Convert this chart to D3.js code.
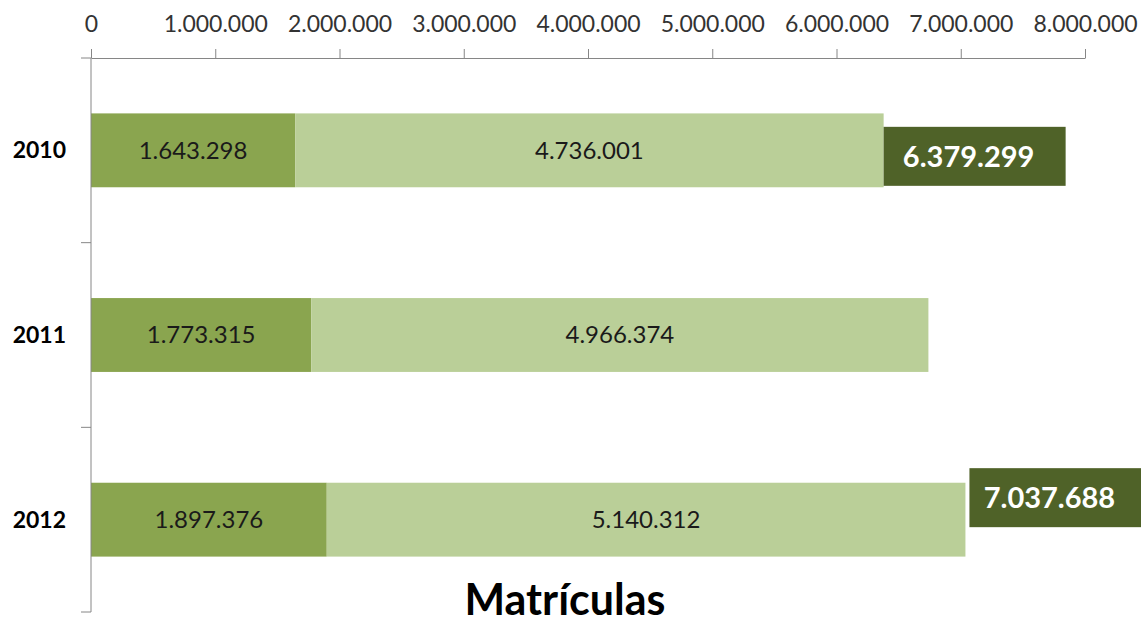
<!doctype html>
<html>
<head>
  <title>Matrículas</title>
  <meta charset="UTF-8">
  <script src="https://d3js.org/d3.v7.min.js"></script>
  <style>
    body { margin: 0; background: #ffffff; }
    text { font-family: Lato, "Open Sans", sans-serif; }
  </style>
</head>
<body>
  <div id="svg_area"></div>
</body>
</html>
<script>

// data
var years = ["2010", "2011", "2012"];
var firstPart = [1643298, 1773315, 1897376];
var secondPart = [4736001, 4966374, 5140312];
var totals = [6379299, null, 7037688];
var xTicks = [0, 1000000, 2000000, 3000000, 4000000, 5000000, 6000000, 7000000, 8000000];

// where Excel put the total boxes (offsets from the bar end)
var boxPlace = [{dx: 0, dy: 6, w: 182}, null, {dx: 4, dy: -22, w: 172}];

var width = 1141;
var height = 621;
// note: "top" is taken by window.top, so plot edges get their own names
var plotLeft = 91, plotRight = 1085, plotTop = 58, plotBottom = 612;

var fmt = d3.formatLocale({decimal: ",", thousands: ".", grouping: [3], currency: ["", ""]}).format(",d");

var svg = d3.select("#svg_area").append("svg")
    .attr("width", width)
    .attr("height", height);

var xScale = d3.scaleLinear()
    .domain([0, 8000000])
    .range([plotLeft, plotRight]);

var yScale = d3.scaleBand()
    .domain(years)
    .range([plotTop, plotBottom])
    .paddingInner(0.6)
    .paddingOuter(0.3);

// bars - first segment
svg.selectAll("rect.first")
    .data(years)
    .enter().append("rect")
    .attr("class", "first")
    .attr("x", xScale(0))
    .attr("y", function(d){ return yScale(d); })
    .attr("width", function(d, i){ return xScale(firstPart[i]) - xScale(0); })
    .attr("height", yScale.bandwidth())
    .attr("fill", "#8aa54f");

// bars - second segment
svg.selectAll("rect.second")
    .data(years)
    .enter().append("rect")
    .attr("class", "second")
    .attr("x", function(d, i){ return xScale(firstPart[i]); })
    .attr("y", function(d){ return yScale(d); })
    .attr("width", function(d, i){ return xScale(firstPart[i] + secondPart[i]) - xScale(firstPart[i]); })
    .attr("height", yScale.bandwidth())
    .attr("fill", "#bacf98");

// segment labels
svg.selectAll("text.l1")
    .data(years)
    .enter().append("text")
    .attr("class", "l1")
    .attr("x", function(d, i){ return (xScale(0) + xScale(firstPart[i])) / 2; })
    .attr("y", function(d){ return yScale(d) + yScale.bandwidth() / 2; })
    .attr("dy", "0.35em")
    .attr("text-anchor", "middle")
    .attr("font-size", "24px")
    .attr("fill", "#1a1a1a")
    .text(function(d, i){ return fmt(firstPart[i]); });

svg.selectAll("text.l2")
    .data(years)
    .enter().append("text")
    .attr("class", "l2")
    .attr("x", function(d, i){ return (xScale(firstPart[i]) + xScale(firstPart[i] + secondPart[i])) / 2; })
    .attr("y", function(d){ return yScale(d) + yScale.bandwidth() / 2; })
    .attr("dy", "0.35em")
    .attr("text-anchor", "middle")
    .attr("font-size", "24px")
    .attr("fill", "#1a1a1a")
    .text(function(d, i){ return fmt(secondPart[i]); });

// total boxes (only 2010 and 2012 have one)
years.forEach(function(d, i){
  if (totals[i] == null) return;
  var p = boxPlace[i];
  var bx = xScale(totals[i]) + p.dx;
  var cy = yScale(d) + yScale.bandwidth() / 2 + p.dy;
  svg.append("rect")
    .attr("x", bx)
    .attr("y", cy - 29.5)
    .attr("width", p.w)
    .attr("height", 59)
    .attr("fill", "#4f6228");
  svg.append("text")
    .attr("x", bx + p.w / 2 - 6)
    .attr("y", cy)
    .attr("dy", "0.36em")
    .attr("text-anchor", "middle")
    .attr("font-size", "29px")
    .attr("font-weight", "bold")
    .attr("fill", "#ffffff")
    .text(fmt(totals[i]));
});

// top axis
var xAxis = d3.axisTop(xScale)
    .tickValues(xTicks)
    .tickSizeInner(9)
    .tickSizeOuter(0)
    .tickPadding(17)
    .tickFormat(fmt);

var gx = svg.append("g")
    .attr("transform", "translate(0," + plotTop + ")")
    .call(xAxis);
gx.select(".domain").attr("stroke", "#868686");
gx.selectAll(".tick line").attr("stroke", "#868686");
gx.selectAll(".tick text")
    .attr("font-size", "23px")
    .attr("font-family", "Lato, sans-serif")
    .attr("fill", "#333333");

// left axis: line plus ticks at band boundaries
var step = yScale.step();
var y0 = yScale.range()[0];
svg.append("line")
    .attr("x1", plotLeft).attr("x2", plotLeft)
    .attr("y1", plotTop).attr("y2", plotBottom)
    .attr("stroke", "#868686");
svg.selectAll("line.ytick")
    .data(d3.range(years.length + 1))
    .enter().append("line")
    .attr("class", "ytick")
    .attr("x1", plotLeft - 10).attr("x2", plotLeft)
    .attr("y1", function(i){ return y0 + i * step; })
    .attr("y2", function(i){ return y0 + i * step; })
    .attr("stroke", "#868686");

svg.selectAll("text.cat")
    .data(years)
    .enter().append("text")
    .attr("class", "cat")
    .attr("x", 66)
    .attr("y", function(d){ return yScale(d) + yScale.bandwidth() / 2; })
    .attr("dy", "0.35em")
    .attr("text-anchor", "end")
    .attr("font-size", "23px")
    .attr("font-weight", "bold")
    .attr("fill", "#000000")
    .text(function(d){ return d; });

// title
svg.append("text")
    .attr("x", 565)
    .attr("y", 615)
    .attr("text-anchor", "middle")
    .attr("font-size", "43px")
    .attr("font-weight", "bold")
    .attr("fill", "#000000")
    .text("Matrículas");

</script>
